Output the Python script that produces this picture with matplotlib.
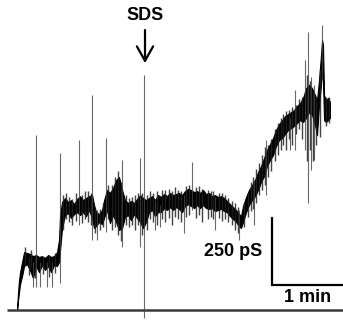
import numpy as np
import matplotlib.pyplot as plt

# envelope of the recorded trace: time (s), lower / upper conductance (pS)
time_s = [0, 0.9, 1.7, 2.6, 4.3, 6, 8.5, 11, 13.6, 16.2, 18.7, 21.3, 23.8, 26.4,
          28.9, 31.5, 34, 35.7, 36.6, 38.3, 40.8, 43.4, 45.9, 48.5, 51, 53.6,
          56.1, 58.7, 61.2, 63.8, 65.5, 67.2, 69.7, 72.3, 74, 76.5, 79, 81.6,
          84.2, 86.7, 89.3, 91.8, 94.4, 96.9, 99.5, 102, 104.6, 107.1, 109.7,
          112.2, 114.8, 117.3, 119.9, 122.4, 125, 127.5, 130, 132.6, 135.2,
          137.7, 140.3, 142.8, 145.4, 147.9, 150.5, 153, 155.6, 158.1, 160.7,
          163.2, 165.8, 168.3, 170.9, 173.4, 176, 178.5, 181, 183.6, 186.2,
          188.7, 190.4, 192.1, 194.7, 197.2, 199.8, 202.3, 204.9, 207.4, 210,
          212.5, 215, 217.6, 220.2, 222.7, 225.3, 227.8, 230.4, 232.9, 235.5,
          238, 240.6, 243.1, 245.7, 248.2, 250.8, 253.3, 255, 256.7, 258.4,
          259.3, 260.1, 261, 262.6, 264.4, 266]
g_hi = [0, 67, 112, 142, 180, 217, 214, 210, 202, 206, 199, 202, 195, 206,
        199, 202, 217, 262, 356, 405, 420, 405, 412, 397, 416, 427,
        412, 420, 427, 431, 394, 367, 360, 375, 412, 450, 439, 457,
        487, 499, 450, 412, 401, 409, 401, 416, 431, 420, 412,
        420, 427, 412, 431, 424, 435, 427, 439, 431, 435,
        439, 431, 446, 454, 450, 442, 446, 439, 450, 435,
        439, 427, 431, 424, 427, 420, 409, 397, 386, 375,
        360, 352, 390, 424, 450, 469, 487, 517, 540, 570,
        600, 622, 645, 675, 697, 712, 727, 735, 742, 750,
        765, 776, 795, 832, 844, 832, 806, 787, 862, 956,
        1012, 994, 806, 787, 795, 780]
g_lo = [0, 37, 67, 97, 127, 165, 172, 150, 120, 165, 142, 169, 150, 165,
        142, 169, 165, 180, 225, 307, 356, 364, 345, 360, 367, 356,
        367, 352, 375, 345, 307, 315, 330, 322, 345, 375, 326, 356,
        330, 300, 307, 349, 356, 337, 360, 345, 330, 307, 330,
        367, 375, 352, 367, 367, 382, 375, 386, 375, 386,
        379, 367, 390, 397, 390, 382, 394, 382, 394, 382,
        379, 382, 371, 375, 379, 371, 367, 352, 341, 330,
        315, 307, 330, 367, 394, 412, 427, 450, 480, 502,
        540, 562, 581, 615, 637, 645, 660, 675, 682, 690,
        701, 712, 705, 720, 742, 731, 694, 656, 769, 844,
        900, 862, 712, 705, 712, 720]

# short noise excursions around the trace: time (s), bottom and top (pS)
noise_t = [6.8, 10, 12, 15, 22, 27.5, 32, 39.5, 42, 44.5, 47, 50, 55, 57.5,
           60, 62.5, 66, 70.5, 73, 77.5, 80.5, 83, 85.5, 88, 93, 95.5, 98,
           100.5, 103, 106, 110.5, 113, 116, 119, 123.5, 126, 129, 131.5, 134,
           136.5, 139, 144, 146.5, 152, 155, 157, 162, 164.5, 167, 172, 174.5,
           177, 179.5, 182.5, 185, 187.5, 193, 196, 198.5, 201, 203.5, 206,
           208.5, 211, 213.5, 216, 219, 221.5, 224, 226.5, 229, 231, 234, 237,
           239.5, 242, 246.5, 249, 251.5, 254, 257.5, 263, 265]
noise_lo = [170, 130, 160, 120, 135, 125, 140, 300, 340, 330, 320, 335, 325,
            340, 330, 320, 290, 300, 310, 340, 300, 310, 280, 260, 320, 310,
            320, 300, 320, 280, 300, 340, 330, 320, 340, 330, 345, 320, 350,
            340, 330, 350, 355, 345, 355, 330, 340, 350, 340, 345, 335, 340,
            330, 320, 300, 290, 310, 350, 370, 380, 400, 430, 450, 470, 500,
            520, 560, 580, 600, 620, 600, 640, 620, 660, 680, 640, 560, 600,
            560, 620, 650, 690, 700]
noise_hi = [235, 200, 225, 200, 200, 205, 215, 430, 440, 425, 415, 440, 430,
            445, 445, 440, 380, 380, 400, 470, 470, 500, 520, 480, 430, 420,
            425, 430, 440, 440, 430, 445, 440, 445, 450, 450, 455, 445, 460,
            450, 445, 465, 470, 460, 465, 455, 450, 445, 445, 440, 440, 430,
            420, 410, 400, 385, 400, 440, 480, 500, 530, 550, 580, 610, 620,
            640, 680, 700, 720, 735, 745, 750, 760, 770, 790, 800, 880, 860,
            820, 800, 900, 800, 800]

# brief single-channel spikes: time (s), bottom and top (pS)
spike_t = [13.6, 16.2, 19.6, 25.5, 29.8, 36.6, 52.7, 63.8, 68, 75.7, 89.3,
           104.6, 108, 117.3, 121.6, 142, 148.8, 168.3, 188.7, 201.5, 211.7,
           232, 236.3, 244.8, 247.4, 250, 252.5, 259.3]
spike_lo = [86, 86, 86, 86, 86, 101, 319, 262, 262, 292, 236,
            236, -30, 300, 311, 289, 375, 300, 262, 319, 431,
            600, 600, 600, 401, 525, 562, 862]
spike_hi = [180, 656, 180, 180, 180, 589, 637, 806, 375, 645, 562,
            570, 881, 412, 394, 431, 555, 424, 375, 487, 637,
            720, 825, 937, 1042, 874, 844, 1069]

sds_time = 108.8
bar_t0, bar_g0 = 216.8, 94    # scale bar corner
bar_len_s, bar_len_pS = 60, 250

fig = plt.figure(figsize=(3.43, 3.2), dpi=100)
ax = fig.add_axes([0, 0, 1, 1])
ax.set_xlim(-14.45, 277.1)
ax.set_ylim(-37.5, 1162.5)
ax.axis('off')

# baseline (closed level)
ax.plot([-8.5, 277.1], [0, 0], color='#3a3a3a', lw=1.8, solid_capstyle='butt')

ax.vlines(spike_t, spike_lo, spike_hi, color='#444444', lw=0.8, alpha=0.8)
ax.vlines(noise_t, noise_lo, noise_hi, color='#222222', lw=1.0, alpha=0.85)
ax.fill_between(time_s, g_lo, g_hi, color='black', lw=0.8, edgecolor='black')

font = dict(family=['Liberation Sans', 'DejaVu Sans'], fontweight='bold',
            fontsize=13)

# SDS addition marker
ax.text(sds_time, 1106, 'SDS', ha='center', va='center', **font)
ax.annotate('', xy=(sds_time, 926), xytext=(sds_time, 1050),
            arrowprops=dict(arrowstyle='->,head_length=0.8,head_width=0.45',
                            lw=1.6, color='black', mutation_scale=13,
                            shrinkA=0, shrinkB=0))

# scale bar
ax.plot([bar_t0, bar_t0, bar_t0 + bar_len_s],
        [bar_g0 + bar_len_pS, bar_g0, bar_g0],
        color='black', lw=1.6, solid_joinstyle='miter')
ax.text(bar_t0 - 8.5, 221, '250 pS', ha='right', va='center', **font)
ax.text(bar_t0 + bar_len_s / 2 + 0.5, 45, '1 min', ha='center', va='center',
        **font)

fig.savefig('out.png', dpi=100)
